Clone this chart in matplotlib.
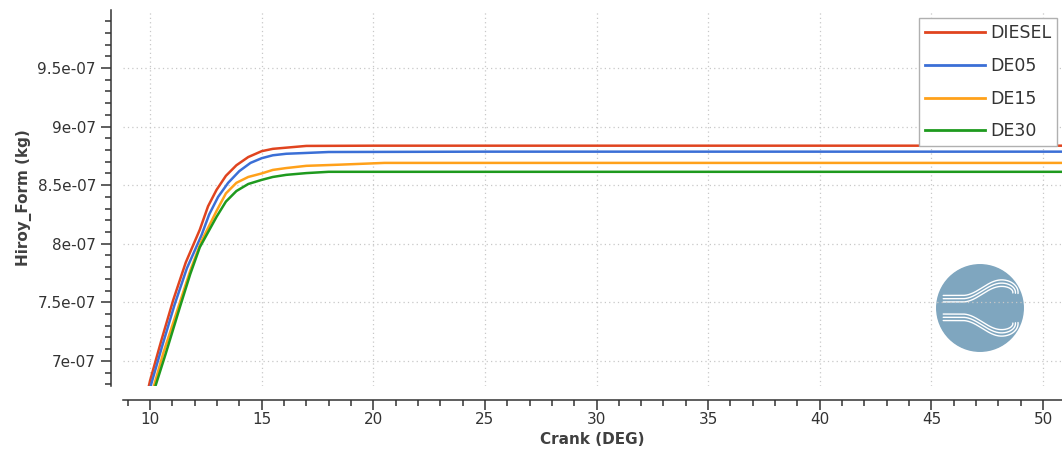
import numpy as np
import matplotlib.pyplot as plt
from matplotlib.ticker import MultipleLocator, FuncFormatter
from matplotlib.patches import Circle

# crank angle (deg) and formed soot mass (kg) for each fuel blend
crank_diesel = [9.80, 10.00, 10.50, 11.04, 11.60, 12.23, 12.60, 12.98, 13.40, 13.87, 14.40, 15.00, 15.50, 16.10, 17.00, 20.00, 30.00, 40.00, 51.00]
diesel = [6.66e-7, 6.83e-7, 7.17e-7, 7.52e-7, 7.84e-7, 8.12e-7, 8.32e-7, 8.46e-7, 8.58e-7, 8.67e-7, 8.74e-7, 8.79e-7, 8.81e-7, 8.82e-7, 8.835e-7, 8.837e-7, 8.837e-7, 8.837e-7, 8.837e-7]

crank_de05 = [9.85, 10.05, 10.55, 11.10, 11.65, 12.30, 12.65, 13.05, 13.50, 14.00, 14.50, 15.00, 15.50, 16.10, 17.00, 18.00, 25.00, 40.00, 51.00]
de05 = [6.66e-7, 6.80e-7, 7.13e-7, 7.48e-7, 7.79e-7, 8.07e-7, 8.25e-7, 8.40e-7, 8.52e-7, 8.62e-7, 8.69e-7, 8.73e-7, 8.755e-7, 8.768e-7, 8.775e-7, 8.783e-7, 8.786e-7, 8.786e-7, 8.786e-7]

crank_de15 = [10.00, 10.15, 10.60, 11.27, 11.80, 12.30, 12.98, 13.40, 13.87, 14.40, 15.00, 15.50, 16.10, 17.00, 18.50, 20.50, 30.00, 40.00, 51.00]
de15 = [6.66e-7, 6.77e-7, 7.07e-7, 7.46e-7, 7.77e-7, 8.02e-7, 8.28e-7, 8.43e-7, 8.52e-7, 8.57e-7, 8.60e-7, 8.63e-7, 8.646e-7, 8.665e-7, 8.675e-7, 8.69e-7, 8.69e-7, 8.69e-7, 8.69e-7]

crank_de30 = [10.05, 10.20, 10.70, 11.34, 11.80, 12.23, 12.98, 13.40, 13.87, 14.40, 15.00, 15.50, 16.10, 17.00, 18.00, 25.00, 35.00, 45.00, 51.00]
de30 = [6.66e-7, 6.76e-7, 7.06e-7, 7.46e-7, 7.74e-7, 7.97e-7, 8.23e-7, 8.36e-7, 8.45e-7, 8.51e-7, 8.545e-7, 8.57e-7, 8.588e-7, 8.603e-7, 8.614e-7, 8.614e-7, 8.614e-7, 8.614e-7, 8.614e-7]

labels = ['DIESEL', 'DE05', 'DE15', 'DE30']
colors = ['#e0441f', '#3b6fd6', '#ffa11a', '#1e9a1e']

plt.rcParams['font.family'] = 'DejaVu Sans'

fig = plt.figure(figsize=(10.62, 4.57), dpi=100)

# round logo in the lower right corner, sits under the grid
lax = fig.add_axes([(980 - 45)/1062, 1 - (308 + 45)/457, 90/1062, 90/457], zorder=0)
lax.set_xlim(-1.04, 1.04)
lax.set_ylim(-1.04, 1.04)
lax.set_aspect('equal')
lax.axis('off')
lax.add_patch(Circle((0, 0), 1.0, color='#7fa6bf'))
for k in range(3):
    yb = 0.14 + 0.075 * k
    xh = np.linspace(-0.85, 0.5, 120)
    yh = yb + 0.36 * 0.5 * (1 - np.cos(np.pi * np.clip((xh + 0.4) / 0.9, 0, 1)))
    a = 0.26 + 0.06 * k
    b = 0.14 + 0.075 * k
    th = np.linspace(np.pi / 2, -np.pi / 36, 60)
    xs = np.concatenate([xh, 0.5 + a * np.cos(th)])
    ys = np.concatenate([yh, 0.36 + b * np.sin(th)])
    lax.plot(xs, ys, color='white', lw=1.0, solid_capstyle='round')
    lax.plot(xs, -ys, color='white', lw=1.0, solid_capstyle='round')

ax = fig.add_axes([123/1062, 1 - 386/457, 1 - 123/1062, 376/457], zorder=1)
ax.patch.set_alpha(0)

series = [(crank_diesel, diesel), (crank_de05, de05), (crank_de15, de15), (crank_de30, de30)]
for (x, y), lab, c in zip(series, labels, colors):
    ax.plot(x, y, color=c, lw=1.8, label=lab, zorder=3)

ax.set_xlim(8.79, 50.85)
ax.set_ylim(6.786e-7, 9.995e-7)

ax.xaxis.set_major_locator(MultipleLocator(5))
ax.xaxis.set_minor_locator(MultipleLocator(1))
ax.yaxis.set_major_locator(MultipleLocator(0.5e-7))
ax.yaxis.set_minor_locator(MultipleLocator(0.1e-7))
ax.yaxis.set_major_formatter(FuncFormatter(lambda v, p: f'{v:g}'))
ax.yaxis.get_offset_text().set_visible(False)

ax.grid(True, which='major', color='#c8c8c8', linestyle=(0, (1, 2.5)), lw=0.9)

for s in ['top', 'right']:
    ax.spines[s].set_visible(False)
ax.spines['left'].set_position(('outward', 9))
ax.spines['bottom'].set_position(('outward', 10))
for s in ['left', 'bottom']:
    ax.spines[s].set_color('#333333')
    ax.spines[s].set_linewidth(1.1)

ax.tick_params(which='major', length=7, width=1.1, color='#333333', labelsize=11, labelcolor='#333333')
ax.tick_params(axis='x', which='major', pad=2)
ax.tick_params(which='minor', length=4, width=1.1, color='#333333')

ax.set_xlabel('Crank (DEG)', fontsize=11, fontweight='bold', color='#404040', labelpad=3)
ax.set_ylabel('Hiroy_Form (kg)', fontsize=11, fontweight='bold', color='#404040', labelpad=4)

leg = ax.legend(loc='upper right', bbox_to_anchor=((1057 - 123) / 939, (386 - 18) / 376),
                fontsize=12.5, frameon=True, fancybox=False, handlelength=3.45,
                handletextpad=0.3, labelspacing=0.85, borderpad=0.35, borderaxespad=0,
                framealpha=1)
leg.get_frame().set_edgecolor('#b0b0b0')
leg.get_frame().set_linewidth(1.0)
for t in leg.get_texts():
    t.set_color('#333333')
for h in leg.get_lines():
    h.set_linewidth(2.0)

fig.savefig('out.png', dpi=100)
